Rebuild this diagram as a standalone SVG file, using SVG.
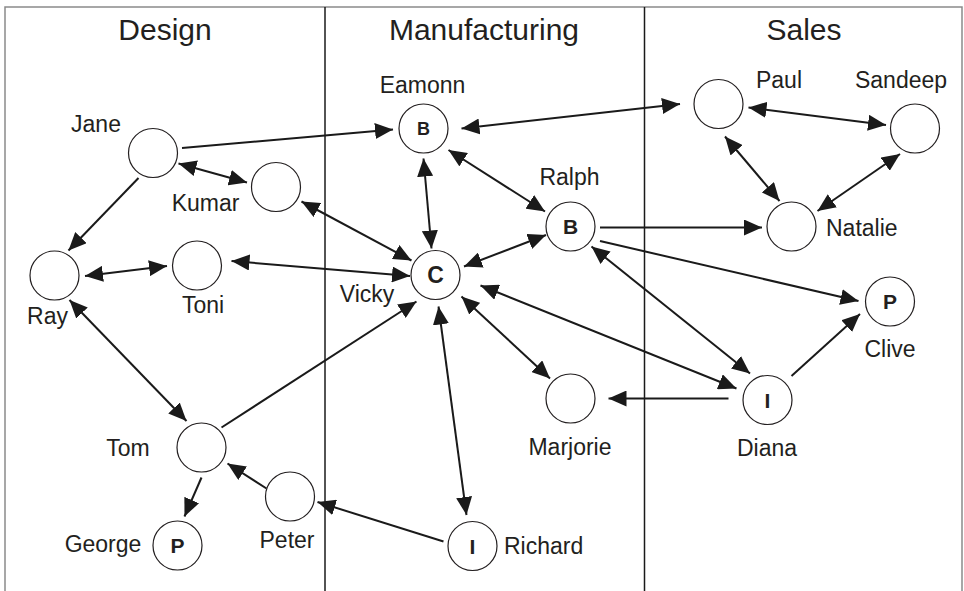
<svg xmlns="http://www.w3.org/2000/svg" width="964" height="591" viewBox="0 0 964 591">
  <style>
    .frame { fill: none; stroke: #8a8a8a; stroke-width: 1.5; }
    .divider { stroke: #1a1a1a; stroke-width: 1.5; }
    .title { font-family: "Liberation Sans", Arial, sans-serif; font-size: 30px; fill: #231f20; text-anchor: middle; }
    .node circle { fill: #fff; stroke: #231f20; stroke-width: 1.2; }
    .label { font-family: "Liberation Sans", Arial, sans-serif; font-size: 23px; fill: #231f20; text-anchor: middle; }
    .role { font-family: "Liberation Sans", Arial, sans-serif; font-size: 21px; font-weight: bold; fill: #231f20; text-anchor: middle; }
    .edge { stroke: #1a1a1a; stroke-width: 2; fill: none; }
    .one { marker-end: url(#head); }
    .two { marker-start: url(#head); marker-end: url(#head); }
  </style>
  <defs>
    <marker id="head" markerUnits="userSpaceOnUse" markerWidth="18" markerHeight="16" refX="18" refY="8" orient="auto-start-reverse">
      <path d="M0,0 L18,8 L0,16 z" fill="#1a1a1a"/>
    </marker>
  </defs>

  <rect width="964" height="591" fill="#fff"/>

  <!-- swimlane frame -->
  <g id="lanes">
    <path class="frame" d="M5,591 V7 H962 V591"/>
    <line class="divider" x1="325" y1="7" x2="325" y2="591"/>
    <line class="divider" x1="644.5" y1="7" x2="644.5" y2="591"/>
    <text class="title" x="165" y="40">Design</text>
    <text class="title" x="484" y="40">Manufacturing</text>
    <text class="title" x="804" y="40">Sales</text>
  </g>

  <!-- connectors -->
  <g id="connectors">
    <line class="edge one" x1="182" y1="148" x2="393" y2="129.5"/>
    <line class="edge two" x1="178.5" y1="163.5" x2="247" y2="182.5"/>
    <line class="edge one" x1="138.5" y1="178" x2="68.5" y2="250.5"/>
    <line class="edge two" x1="301.5" y1="201.5" x2="411.5" y2="260.5"/>
    <line class="edge two" x1="85" y1="276" x2="167" y2="266"/>
    <line class="edge two" x1="231.5" y1="261" x2="410" y2="276"/>
    <line class="edge two" x1="69.5" y1="300" x2="186.5" y2="421"/>
    <line class="edge one" x1="221.5" y1="427.5" x2="416.5" y2="301.5"/>
    <line class="edge one" x1="201.5" y1="477.5" x2="184.5" y2="516.5"/>
    <line class="edge one" x1="266.5" y1="488.5" x2="227.5" y2="463.5"/>
    <line class="edge one" x1="443.5" y1="541.5" x2="317.5" y2="502"/>
    <line class="edge two" x1="438.5" y1="306.5" x2="466.5" y2="515"/>
    <line class="edge two" x1="461.5" y1="296.5" x2="550" y2="378.5"/>
    <line class="edge two" x1="480.5" y1="285.5" x2="736.5" y2="388.5"/>
    <line class="edge two" x1="591.5" y1="246.5" x2="750" y2="373.5"/>
    <line class="edge one" x1="728.5" y1="398.5" x2="608.5" y2="398.5"/>
    <line class="edge one" x1="791.5" y1="376" x2="860" y2="314"/>
    <line class="edge one" x1="600" y1="241" x2="858.5" y2="301"/>
    <line class="edge one" x1="600" y1="227.5" x2="762" y2="227.5"/>
    <line class="edge two" x1="448.5" y1="150" x2="545" y2="211.5"/>
    <line class="edge two" x1="423.5" y1="158.5" x2="431.5" y2="248.5"/>
    <line class="edge two" x1="546" y1="235" x2="464" y2="266.5"/>
    <line class="edge two" x1="461.5" y1="128.5" x2="680" y2="104"/>
    <line class="edge two" x1="748.5" y1="107.5" x2="886" y2="125"/>
    <line class="edge two" x1="725" y1="136.5" x2="779.5" y2="201"/>
    <line class="edge two" x1="900" y1="154" x2="817.5" y2="211"/>
  </g>

  <!-- Design -->
  <g id="jane" class="node">
    <circle cx="153" cy="153" r="24.5"/>
    <text class="label" x="96" y="132">Jane</text>
  </g>
  <g id="kumar" class="node">
    <circle cx="276" cy="187" r="24.5"/>
    <text class="label" x="205.5" y="211">Kumar</text>
  </g>
  <g id="ray" class="node">
    <circle cx="54.5" cy="275.5" r="24.5"/>
    <text class="label" x="47.5" y="324">Ray</text>
  </g>
  <g id="toni" class="node">
    <circle cx="197" cy="265.5" r="24.5"/>
    <text class="label" x="203" y="313">Toni</text>
  </g>
  <g id="tom" class="node">
    <circle cx="201.5" cy="447.5" r="24.5"/>
    <text class="label" x="128" y="456">Tom</text>
  </g>
  <g id="peter" class="node">
    <circle cx="290" cy="496.5" r="24.5"/>
    <text class="label" x="287" y="548">Peter</text>
  </g>
  <g id="george" class="node">
    <circle cx="177.5" cy="545.5" r="24.5"/>
    <text class="role" x="177.5" y="553">P</text>
    <text class="label" x="103" y="552">George</text>
  </g>

  <!-- Manufacturing -->
  <g id="eamonn" class="node">
    <circle cx="423.5" cy="128.5" r="24.5"/>
    <text class="role" x="423.5" y="135" style="font-size:18px">B</text>
    <text class="label" x="422.5" y="93">Eamonn</text>
  </g>
  <g id="ralph" class="node">
    <circle cx="570.5" cy="226.5" r="24.5"/>
    <text class="role" x="570.5" y="234">B</text>
    <text class="label" x="569.5" y="185">Ralph</text>
  </g>
  <g id="vicky" class="node">
    <circle cx="435.5" cy="275" r="24.5"/>
    <text class="role" x="435.5" y="283" style="font-size:23px">C</text>
    <text class="label" x="367" y="302">Vicky</text>
  </g>
  <g id="marjorie" class="node">
    <circle cx="570.5" cy="398.5" r="24.5"/>
    <text class="label" x="570" y="455">Marjorie</text>
  </g>
  <g id="richard" class="node">
    <circle cx="472.5" cy="546" r="24.5"/>
    <text class="role" x="472.5" y="553.5">I</text>
    <text class="label" x="504" y="554" style="text-anchor:start">Richard</text>
  </g>

  <!-- Sales -->
  <g id="paul" class="node">
    <circle cx="718.5" cy="104" r="24.5"/>
    <text class="label" x="779" y="88">Paul</text>
  </g>
  <g id="sandeep" class="node">
    <circle cx="915" cy="128.5" r="24.5"/>
    <text class="label" x="901" y="88">Sandeep</text>
  </g>
  <g id="natalie" class="node">
    <circle cx="791.5" cy="226.5" r="24.5"/>
    <text class="label" x="826" y="235.5" style="text-anchor:start">Natalie</text>
  </g>
  <g id="clive" class="node">
    <circle cx="890" cy="301.5" r="24.5"/>
    <text class="role" x="890" y="309">P</text>
    <text class="label" x="890" y="356.5">Clive</text>
  </g>
  <g id="diana" class="node">
    <circle cx="767.5" cy="400" r="24.5"/>
    <text class="role" x="767.5" y="407.5">I</text>
    <text class="label" x="767" y="455.5">Diana</text>
  </g>
</svg>
